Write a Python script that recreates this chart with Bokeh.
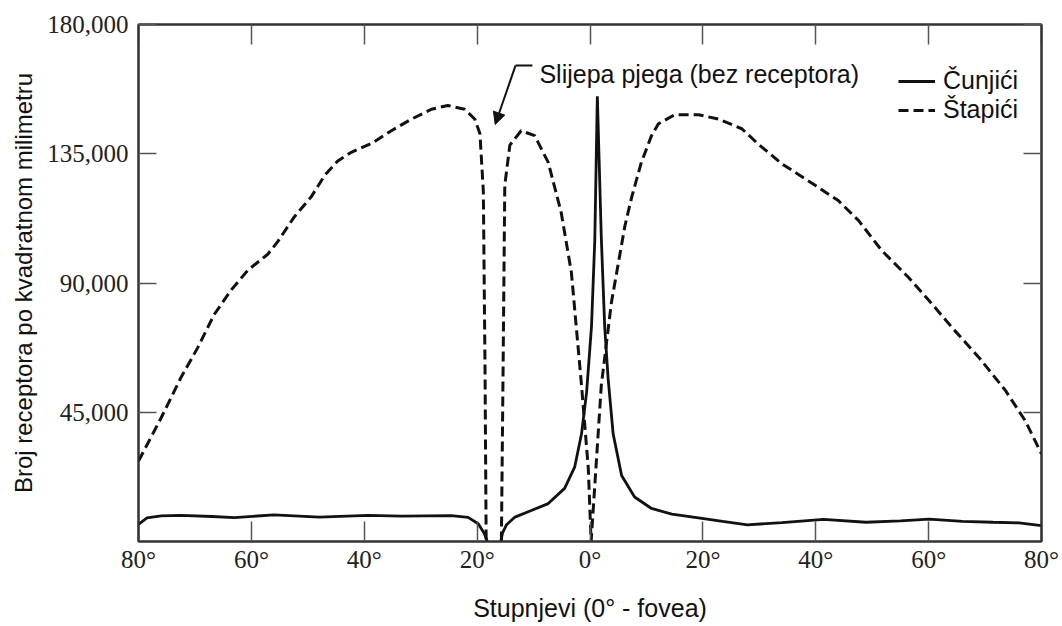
import numpy as np
from bokeh.plotting import figure
from bokeh.models import (ColumnDataSource, LinearAxis, FixedTicker, NumeralTickFormatter,
                          CustomJSTickFormatter, Legend, LegendItem, Label, Arrow, NormalHead)
from bokeh.embed import file_html
from bokeh.resources import INLINE

nan = np.nan

# Rods (Štapići) – receptor density per mm^2 vs. eccentricity (deg), NaN = break at blind spot
rod_deg = [-80, -76, -72.5, -69.5, -66.6, -63.6, -60.6, -57.1, -55.3, -52.4, -49.4, -47.0,
           -44.7, -42.3, -38.8, -35.2, -31.7, -28.1, -25.2, -22.2, -20.4, -19.5, -18.9,
           -18.6, -18.4, nan,
           -15.7, -15.4, -15.1, -14.2, -12.2, -9.8, -7.4, -5.1, -3.3, -1.5, -0.3, 0.2,
           0.85, 2.0, 3.8, 6.2, 7.4, 9.1, 10.9, 12.1, 15.0, 19.2, 22.7, 26.9, 29.8,
           34.0, 39.9, 44.0, 47.6, 51.7, 56.4, 60.6, 64.1, 68.9, 73.6, 77.1, 80]
rod_density = [28000, 43000, 57000, 67500, 79000, 87500, 94500, 100000, 104500, 113000, 120000, 127500,
               132500, 135500, 138500, 143000, 147000, 150500, 151800, 150500, 147000, 142000, 122000,
               60000, 0, nan,
               0, 60000, 124000, 138000, 143000, 141300, 132000, 114500, 93700, 54300, 25400, 0,
               19500, 54300, 83300, 110000, 120000, 132000, 141300, 145400, 148600, 148600, 147100, 143700, 138400,
               131500, 124000, 118700, 111700, 101300, 92000, 82700, 74600, 64100, 52600, 42100, 30500]

# Cones (Čunjići)
cone_deg = [-80, -78.5, -76, -72.5, -67, -63, -56, -48, -39.3, -33.4, -24.6, -21.6, -19.8,
            -18.7, -18.2, nan,
            -15.8, -15.5, -14.8, -13.3, -10.4, -7.4, -4.5, -2.7, -1.5, -0.6, 0.27, 0.85, 1.3,
            2.0, 2.6, 3.2, 4.1, 5.6, 7.9, 10.9, 14.5, 18.9, 23.5, 27.9, 34, 41.4, 48.9, 55,
            60.1, 66, 71.4, 76, 80]
cone_density = [6000, 8200, 8900, 9100, 8700, 8300, 9300, 8500, 9100, 8800, 9000, 8400, 6200,
                2700, 0, nan,
                0, 3000, 5800, 8500, 10800, 13200, 18500, 26000, 37500, 52000, 75000, 105000, 155000,
                106000, 75000, 57000, 37500, 23000, 15500, 11500, 9500, 8300, 7000, 5800, 6600, 7700, 6700, 7200,
                7800, 7000, 6700, 6500, 5500]

x_ticks = [-80, -60, -40, -20, 0, 20, 40, 60, 80]
y_ticks = [45000, 90000, 135000, 180000]

legend_labels = ["Čunjići", "Štapići"]
annotation_text = "Slijepa pjega (bez receptora)"
x_title = "Stupnjevi (0° - fovea)"
y_title = "Broj receptora po kvadratnom milimetru"

SANS = "Liberation Sans"
SERIF = "Liberation Serif"
AX = "#333333"
TK = "#555555"

p = figure(frame_width=903, frame_height=517, x_range=(-80, 80), y_range=(0, 180000),
           output_backend="svg", toolbar_location=None,
           min_border_left=138, min_border_top=24, min_border_right=21, min_border_bottom=0,
           background_fill_color="white", border_fill_color="white")
p.xgrid.visible = False
p.ygrid.visible = False
p.outline_line_color = AX
p.outline_line_width = 2

def style_axis(ax, tick_len, labels=True):
    ax.axis_line_color = AX
    ax.axis_line_width = 2
    ax.major_tick_in = tick_len
    ax.major_tick_out = 0
    ax.major_tick_line_color = TK
    ax.major_tick_line_width = 1.5
    ax.minor_tick_line_color = None
    if not labels:
        ax.major_label_text_font_size = "1px"
        ax.major_label_text_color = None
        ax.major_label_standoff = 0

xfmt = CustomJSTickFormatter(code="return Math.abs(tick).toFixed(0) + '°';")

xa = p.xaxis[0]
xa.ticker = FixedTicker(ticks=x_ticks)
xa.formatter = xfmt
style_axis(xa, 20)
xa.major_label_text_font = SERIF
xa.major_label_text_font_size = "25px"
xa.major_label_text_color = "#222222"
xa.major_label_standoff = 4
xa.axis_label = x_title
xa.axis_label_text_font = SANS
xa.axis_label_text_font_size = "25px"
xa.axis_label_text_font_style = "normal"
xa.axis_label_text_color = "#111111"
xa.axis_label_standoff = 18

ya = p.yaxis[0]
ya.ticker = FixedTicker(ticks=y_ticks)
ya.formatter = NumeralTickFormatter(format="0,0")
style_axis(ya, 18)
ya.major_label_text_font = SERIF
ya.major_label_text_font_size = "25px"
ya.major_label_text_color = "#222222"
ya.major_label_standoff = 10
ya.axis_label = y_title
ya.axis_label_text_font = SANS
ya.axis_label_text_font_size = "24px"
ya.axis_label_text_font_style = "normal"
ya.axis_label_text_color = "#111111"
ya.axis_label_standoff = 7

top = LinearAxis(ticker=FixedTicker(ticks=x_ticks))
style_axis(top, 20, labels=False)
p.add_layout(top, "above")
right = LinearAxis(ticker=FixedTicker(ticks=y_ticks))
style_axis(right, 18, labels=False)
p.add_layout(right, "right")

rods_src = ColumnDataSource(dict(x=rod_deg, y=rod_density))
cones_src = ColumnDataSource(dict(x=cone_deg, y=cone_density))

r_rods = p.line("x", "y", source=rods_src, line_color="#111111", line_width=3, line_dash="10 5")
r_cones = p.line("x", "y", source=cones_src, line_color="#111111", line_width=2.8)

legend = Legend(items=[LegendItem(label=legend_labels[0], renderers=[r_cones]),
                       LegendItem(label=legend_labels[1], renderers=[r_rods])],
                location=(760, 417), background_fill_alpha=0, border_line_alpha=0,
                label_text_font=SANS, label_text_font_size="25px", label_text_color="#111111",
                glyph_width=37, glyph_height=28, label_height=28, spacing=0, padding=0,
                margin=0, label_standoff=8)
p.add_layout(legend)

p.add_layout(Label(x=-8.96, y=162800, text=annotation_text, text_font=SANS,
                   text_font_size="25px", text_color="#111111", text_baseline="alphabetic"))
p.add_layout(Arrow(end=None, x_start=-10.2, y_start=165700, x_end=-13.2, y_end=165700,
                   line_color="#111111", line_width=2))
p.add_layout(Arrow(end=NormalHead(size=12, fill_color="#111111", line_color="#111111"),
                   x_start=-13.2, y_start=165700, x_end=-16.8, y_end=145200,
                   line_color="#111111", line_width=2))

open("out.html", "w").write(file_html(p, INLINE))
